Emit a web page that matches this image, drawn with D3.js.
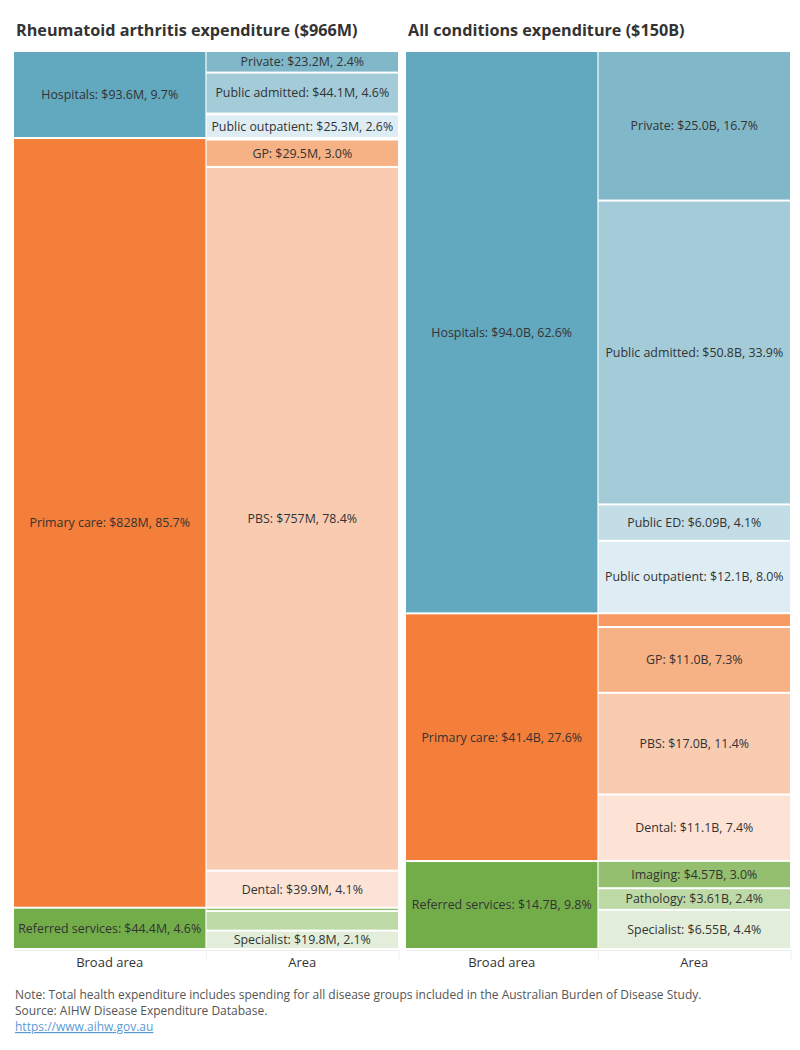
<!DOCTYPE html>
<html>
<head>
<meta charset="utf-8">
<script src="https://cdn.jsdelivr.net/npm/d3@7"></script>
<style>
  body { margin: 0; background: #fff; }
  svg { display: block; font-family: "Open Sans", "Noto Sans", sans-serif; }
</style>
</head>
<body>
<svg id="chart" width="800" height="1050"></svg>
<script>
// ---------------- DATA ----------------
const broadAreas = ["Hospitals", "Primary care", "Referred services"];
const raBroadValues = [93.6, 828, 44.4];
const raBroadPct = [9.7, 85.7, 4.6];
const allBroadValues = [94.0, 41.4, 14.7];
const allBroadPct = [62.6, 27.6, 9.8];

const areaNames = ["Private", "Public admitted", "Public ED", "Public outpatient",
                   "Other primary care", "GP", "PBS", "Dental",
                   "Imaging", "Pathology", "Specialist"];
const areaParent = [0, 0, 0, 0, 1, 1, 1, 1, 2, 2, 2];
const raAreaValues = [23.2, 44.1, 1.0, 25.3, 1.6, 29.5, 757, 39.9, 3.6, 21.0, 19.8];
const raAreaPct = [2.4, 4.6, 0.1, 2.6, 0.2, 3.0, 78.4, 4.1, 0.4, 2.2, 2.1];
const raAreaLabelled = [true, true, false, true, false, true, true, true, false, false, true];
const allAreaValues = [25.0, 50.8, 6.09, 12.1, 2.3, 11.0, 17.0, 11.1, 4.57, 3.61, 6.55];
const allAreaPct = [16.7, 33.9, 4.1, 8.0, 1.5, 7.3, 11.4, 7.4, 3.0, 2.4, 4.4];
const allAreaLabelled = [true, true, true, true, false, true, true, true, true, true, true];

const columnHeaders = ["Broad area", "Area"];
const titles = ["Rheumatoid arthritis expenditure ($966M)", "All conditions expenditure ($150B)"];
const totals = [966, 150];
const units = ["M", "B"];
const notes = [
  "Note: Total health expenditure includes spending for all disease groups included in the Australian Burden of Disease Study.",
  "Source: AIHW Disease Expenditure Database."
];
const linkText = "https://www.aihw.gov.au";

// ---------------- STYLE ----------------
const broadColors = ["#62a8bf", "#f47f3a", "#73ad4a"];
const areaColors = ["#80b8ca", "#a3cbd8", "#c2dde6", "#deedf3",
                    "#f79a63", "#f6b185", "#f9cbb0", "#fde3d6",
                    "#93bf6f", "#bcd9a6", "#e2eeda"];

const svg = d3.select("#chart");
const fmtVal = d3.format(".3r");
const fmtPct = d3.format(".1f");

const panels = [
  { x0: 14, title: titles[0], total: totals[0], unit: units[0],
    broadV: raBroadValues, broadP: raBroadPct,
    areaV: raAreaValues, areaP: raAreaPct, areaL: raAreaLabelled },
  { x0: 406, title: titles[1], total: totals[1], unit: units[1],
    broadV: allBroadValues, broadP: allBroadPct,
    areaV: allAreaValues, areaP: allAreaPct, areaL: allAreaLabelled }
];

const plotTop = 52, plotBottom = 950, gap = 2;

panels.forEach(p => {
  const g = svg.append("g");
  const x = d3.scaleBand().domain(columnHeaders).range([p.x0, p.x0 + 384]).paddingInner(0.006);
  const y = d3.scaleLinear().domain([0, p.total]).range([plotTop, plotBottom]);

  g.append("text")
    .attr("x", p.x0 + 2).attr("y", 36)
    .attr("font-size", 16.2).attr("font-weight", "bold")
    .attr("fill", "#333")
    .text(p.title);

  const label = (name, v, pct) => `${name}: $${fmtVal(v)}${p.unit}, ${fmtPct(pct)}%`;

  const cumB = d3.cumsum(p.broadV);
  const broadData = broadAreas.map((n, i) => ({
    name: n, v: p.broadV[i], pct: p.broadP[i],
    s: i ? cumB[i - 1] : 0, e: cumB[i], color: broadColors[i], show: true
  }));
  const cumA = d3.cumsum(p.areaV);
  const areaData = areaNames.map((n, i) => ({
    name: n, v: p.areaV[i], pct: p.areaP[i],
    s: i ? cumA[i - 1] : 0, e: cumA[i], color: areaColors[i], show: p.areaL[i]
  }));
  const aScale = p.total / cumA[cumA.length - 1];
  areaData.forEach(d => { d.s *= aScale; d.e *= aScale; });
  const bScale = p.total / cumB[cumB.length - 1];
  broadData.forEach(d => { d.s *= bScale; d.e *= bScale; });

  [[columnHeaders[0], broadData], [columnHeaders[1], areaData]].forEach(([col, data]) => {
    const cg = g.append("g");
    cg.selectAll("rect").data(data).join("rect")
      .attr("x", x(col))
      .attr("width", x.bandwidth())
      .attr("y", d => y(d.s))
      .attr("height", d => Math.max(0, y(d.e) - y(d.s) - gap))
      .attr("fill", d => d.color);
    cg.selectAll("text").data(data.filter(d => d.show)).join("text")
      .attr("x", x(col) + x.bandwidth() / 2)
      .attr("y", d => (y(d.s) + y(d.e) - gap) / 2)
      .attr("dy", "0.35em")
      .attr("text-anchor", "middle")
      .attr("font-size", 12.4)
      .attr("fill", "#333")
      .text(d => label(d.name, d.v, d.pct));
  });

  const axis = d3.axisBottom(x).tickSize(0).tickPadding(8);
  const ag = g.append("g").attr("transform", `translate(0,${plotBottom})`).call(axis);
  ag.select(".domain").attr("stroke", "#eee");
  ag.selectAll("text").attr("font-size", 13).attr("fill", "#333")
    .attr("font-family", "\"Open Sans\", sans-serif");
  columnHeaders.forEach(c => {
    g.append("line").attr("x1", x(c) + x.bandwidth() + 1).attr("x2", x(c) + x.bandwidth() + 1)
      .attr("y1", plotBottom).attr("y2", plotBottom + 10).attr("stroke", "#f0f0f0");
  });
});

const ng = svg.append("g").attr("font-size", 12).attr("fill", "#555");
notes.forEach((t, i) => {
  ng.append("text").attr("x", 15).attr("y", 999 + i * 16).text(t);
});
ng.append("text").attr("x", 15).attr("y", 1031)
  .attr("fill", "#5b9bd5").attr("text-decoration", "underline").text(linkText);
</script>
</body>
</html>
